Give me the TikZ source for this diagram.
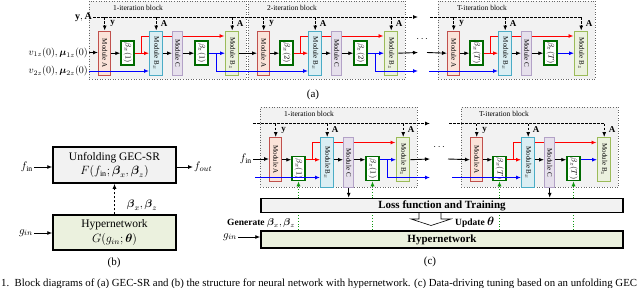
\documentclass[tikz,border=0pt]{standalone}
\usepackage{amsmath}
\usepackage{fontspec}
\setmainfont{Liberation Serif}
\usetikzlibrary{arrows.meta,positioning,calc}

\definecolor{modAline}{HTML}{C0504D}
\definecolor{modAfill}{HTML}{FBE3D9}
\definecolor{modBxline}{HTML}{4BACC6}
\definecolor{modBxfill}{HTML}{DAEEF3}
\definecolor{modCline}{HTML}{B3A2C7}
\definecolor{modCfill}{HTML}{E6E0EC}
\definecolor{modBzline}{HTML}{9BBB59}
\definecolor{modBzfill}{HTML}{EBF1DE}
\definecolor{betagreen}{HTML}{006A00}
\definecolor{dotgreen}{HTML}{119911}
\definecolor{bggray}{HTML}{F2F2F2}

\newcommand{\pxfont}[1]{\fontsize{#1}{#1}\selectfont}

% one iteration block: prefix, x, y, index, beta y, tall height, bg height, title, title x
\newcommand{\iterblock}[9]{%
  \begin{scope}[shift={(#2,#3)}]
    \node[blockbg, anchor=north west, minimum width=157pt, minimum height=#7pt] (#1bg) at (-9,-30) {};
    \node[blocktitle] (#1title) at (#9,-23) {#8};
    \coordinate (#1top) at (0,-13.5);
    \coordinate (#1blue) at (0,40.5);
    \coordinate (#1rs) at (43,22);
    \coordinate (#1re) at (126.5,5.5);
    \draw[redarr] (#1rs) |- (#1re);
    \node[modbox, draw=modAline, fill=modAfill, anchor=north west] (#1A) at (0,0) {\rotatebox{-90}{Module A}};
    \node[betabox] (#1bx) at (29.5,#5) {\rotatebox{-90}{$\beta_x(#4)$}};
    \node[modbox, draw=modBxline, fill=modBxfill, minimum width=13pt, minimum height=#6pt, anchor=north west] (#1Bx) at (51,0) {\rotatebox{-90}{Module B$_x$}};
    \node[modbox, draw=modCline, fill=modCfill, minimum width=10pt, minimum height=#6pt, anchor=north west] (#1C) at (74,0) {\rotatebox{-90}{Module C}};
    \node[betabox] (#1bz) at (103.5,#5) {\rotatebox{-90}{$\beta_z(#4)$}};
    \node[modbox, draw=modBzline, fill=modBzfill, minimum width=13pt, anchor=north west] (#1Bz) at (127,0) {\rotatebox{-90}{Module B$_z$}};
    \coordinate (#1bs) at ($(#1A.east -| #1bz.east)!0.5!(#1A.east -| #1Bz.west)$);
    % links inside the block
    \draw[arr] (#1A.east) -- (#1A.east -| #1bx.west);
    \draw[redarr] (#1A.east -| #1bx.east) -- (#1A.east -| #1Bx.west);
    \draw[arr] (#1A.east -| #1Bx.east) -- (#1A.east -| #1C.west);
    \draw[arr] (#1A.east -| #1C.east) -- (#1A.east -| #1bz.west);
    \draw[bluearr] (#1A.east -| #1bz.east) -- (#1A.east -| #1Bz.west);
    % y and A from the top
    \draw[dasharr] (#1A.north |- #1top) -- (#1A.north);
    \draw[dasharr] (#1Bx.north |- #1top) -- (#1Bx.north);
    \draw[dasharr] (#1Bz.north |- #1top) -- (#1Bz.north);
    \node[siglabel] (#1ylab) at ($(#1A.north)+(8,-7)$) {$\mathbf{y}$};
    \node[siglabel] (#1Alab) at ($(#1Bx.north)+(8,-7)$) {$\mathbf{A}$};
    \node[siglabel] (#1Azlab) at ($(#1Bz.north)+(8,-7)$) {$\mathbf{A}$};
  \end{scope}}

\begin{document}
\begin{tikzpicture}[x=1pt, y=-1pt,
  arr/.style={-{Latex[length=5pt,width=4pt]}, line width=0.9pt},
  redarr/.style={arr, draw=red},
  bluearr/.style={arr, draw=blue},
  dasharr/.style={arr, dash pattern=on 2.5pt off 1.5pt},
  dashline/.style={line width=0.9pt, dash pattern=on 2.5pt off 1.5pt},
  greenarr/.style={arr, draw=dotgreen, dotted, line width=1pt},
  blockbg/.style={draw=gray!80!black, dotted, fill=bggray, line width=0.6pt, inner sep=0},
  blocktitle/.style={font=\pxfont{7.5}, inner sep=0},
  modbox/.style={line width=1.4pt, minimum width=12pt, minimum height=44pt, inner sep=0, font=\pxfont{7}},
  betabox/.style={draw=betagreen, fill=white, line width=1.5pt, minimum width=13pt, minimum height=24pt, inner sep=0, font=\pxfont{8.5}},
  siglabel/.style={font=\pxfont{9}, inner sep=0},
  inlabel/.style={font=\pxfont{10}, inner sep=1pt},
  bigbox/.style={draw, line width=1.5pt, align=center, inner sep=1pt, font=\fontsize{11.5}{14.5}\selectfont},
  widebox/.style={draw, line width=1.5pt, minimum width=362pt, inner sep=0, font=\pxfont{11}\bfseries},
  sublabel/.style={font=\pxfont{11}, inner sep=0}
]
  \useasboundingbox (0,0) rectangle (640,287);
  \clip (0,0) rectangle (640,287);

  % (a) GEC-SR
  \iterblock{a1}{98}{30.5}{1}{22.5}{44}{78}{1-iteration block}{40}
  \iterblock{a2}{257}{30.5}{2}{22.5}{44}{78}{2-iteration block}{35}
  \iterblock{aT}{447}{30.5}{T}{22.5}{44}{78}{T-iteration block}{35}

  \node[inlabel, anchor=east] (yA) at (93,17) {$\mathbf{y},\mathbf{A}$};
  \node[inlabel, anchor=east] (v1) at (89,52.5) {$v_{1z}(0),\boldsymbol{\mu}_{1z}(0)$};
  \node[inlabel, anchor=east] (v2) at (89,71) {$v_{2z}(0),\boldsymbol{\mu}_{2z}(0)$};
  \coordinate (adashend) at (418,17);
  \coordinate (aTdash) at (430,17);
  \coordinate (akout) at (418,52.5);
  \coordinate (about) at (418,71);
  \coordinate (aTkin) at (427,52.5);
  \coordinate (aTbin) at (429,71);
  \draw[dasharr] (yA.east) -- (adashend);
  \draw[dashline] (aTdash) -- (aTBz.north |- aTtop);
  \draw[arr] (v1.east) -- (v1.east -| a1A.west);
  \draw[bluearr] (v2.east) -- (v2.east -| a1Bx.west);
  \draw[arr] (a1Bz.east) -- (a2A.west);
  \draw[bluearr] (a1bs) |- (a2Bx.west |- a2blue);
  \draw[arr] (a2Bz.east) -- (akout);
  \draw[bluearr] (a2bs) |- (about);
  \draw[arr] (aTkin) -- (aTA.west);
  \draw[bluearr] (aTbin) -- (aTBx.west |- aTblue);
  \node[inlabel] (adots) at (423,39) {$\cdots$};
  \node[sublabel] (capa) at (313,95) {(a)};

  % (b) hypernetwork structure
  \node[bigbox, fill=bggray, minimum width=123pt, minimum height=36pt] (unf) at (114.5,165) {Unfolding GEC-SR\\$F(f_{\mathrm{in}};\boldsymbol{\beta}_x,\boldsymbol{\beta}_z)$};
  \node[bigbox, fill=modBzfill, minimum width=123pt, minimum height=35pt] (hyp) at (114.5,232.5) {Hypernetwork\\$G(g_{in};\boldsymbol{\theta})$};
  \node[inlabel, font=\pxfont{11}, anchor=east] (bfin) at (34,167) {$f_{\mathrm{in}}$};
  \node[inlabel, font=\pxfont{11}, anchor=west] (bfout) at (193,167) {$f_{out}$};
  \node[inlabel, font=\pxfont{11}, anchor=east] (bgin) at (34,233) {$g_{in}$};
  \draw[arr] (bfin.east) -- (bfin.east -| unf.west);
  \draw[arr] (bfout.west -| unf.east) -- (bfout.west);
  \draw[arr] (bgin.east) -- (bgin.east -| hyp.west);
  \draw[dasharr] (hyp.north) -- (unf.south);
  \node[inlabel, font=\pxfont{11}] (bbeta) at (142,205) {$\boldsymbol{\beta}_x,\boldsymbol{\beta}_z$};
  \node[sublabel] (capb) at (114,263) {(b)};

  % (c) data-driven tuning
  \iterblock{c1}{269}{137}{1}{31.5}{50}{80}{1-iteration block}{40}
  \iterblock{cT}{470}{137}{T}{31.5}{50}{80}{T-iteration block}{34}

  \coordinate (cdash) at (253,123.5);
  \coordinate (cdashend) at (430,123.5);
  \coordinate (cTdash) at (449,123.5);
  \coordinate (cbin) at (255,177.5);
  \coordinate (ckout) at (430,159);
  \coordinate (cbout) at (430,177.5);
  \coordinate (cTkin) at (448,159);
  \coordinate (cTbin) at (452,177.5);
  \node[inlabel, font=\pxfont{11}, anchor=east] (cfin) at (253,159) {$f_{\mathrm{in}}$};
  \draw[dasharr] (cdash) -- (cdashend);
  \draw[dashline] (cTdash) -- (cTBz.north |- cTtop);
  \draw[arr] (cfin.east) -- (cfin.east -| c1A.west);
  \draw[bluearr] (cbin) -- (c1Bx.west |- c1blue);
  \draw[arr] (c1Bz.east) -- (ckout);
  \draw[bluearr] (c1bs) |- (cbout);
  \draw[arr] (cTkin) -- (cTA.west);
  \draw[bluearr] (cTbin) -- (cTBx.west |- cTblue);
  \node[inlabel] (cdots) at (440,147) {$\cdots$};

  \node[widebox, fill=modBzfill, minimum height=17pt] (hyper) at (442,239.5) {Hypernetwork};
  \draw[greenarr] (c1bx.south |- hyper.north) -- (c1bx.south);
  \draw[greenarr] (c1bz.south |- hyper.north) -- (c1bz.south);
  \draw[greenarr] (cTbx.south |- hyper.north) -- (cTbx.south);
  \draw[greenarr] (cTbz.south |- hyper.north) -- (cTbz.south);
  \node[widebox, fill=bggray, minimum height=14pt] (loss) at (442,205.5) {Loss function and Training};
  \draw[arr] (c1C.south) -- (c1C.south |- loss.north);
  \draw[arr] (cTC.south) -- (cTC.south |- loss.north);
  \draw[fill=white, line width=0.6pt] (419,213) -- (419,219) -- (411,219) -- (431,225.5) -- (451,219) -- (441,219) -- (441,213);

  \node[inlabel, font=\pxfont{9.5}\bfseries, anchor=west] (gen) at (226,223) {Generate \pxfont{10}$\boldsymbol{\beta}_x,\boldsymbol{\beta}_z$};
  \node[inlabel, font=\pxfont{9.5}\bfseries, anchor=west] (upd) at (454,222) {Update \pxfont{12}$\boldsymbol{\theta}$};
  \node[inlabel, font=\pxfont{11}, anchor=east] (cgin) at (238,237) {$g_{in}$};
  \draw[arr] (cgin.east) -- (cgin.east -| hyper.west);
  \node[sublabel] (capc) at (430,262) {(c)};

  % caption line, cut by the page edge
  \node[anchor=base west, inner sep=0, font=\pxfont{10.8}] (caption) at (1,286) {1.\ \ Block diagrams of (a) GEC-SR and (b) the structure for neural network with hypernetwork. (c) Data-driving tuning based on an unfolding GEC};
\end{tikzpicture}
\end{document}
